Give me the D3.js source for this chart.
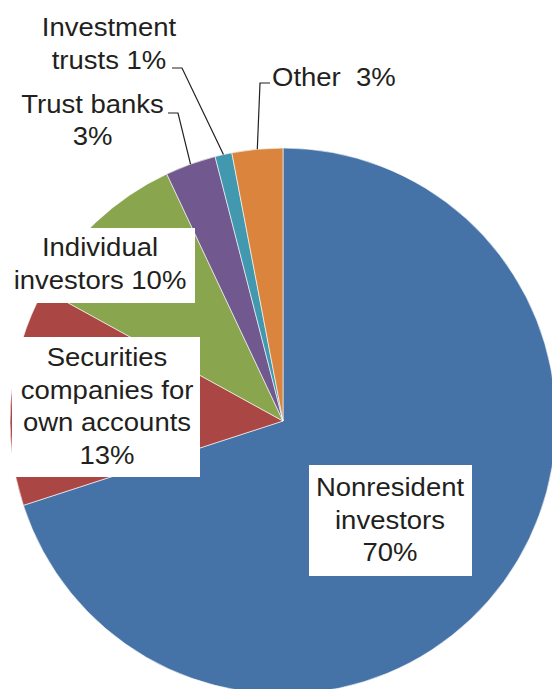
<!DOCTYPE html>
<html>
<head>
    <script src="https://d3js.org/d3.v7.js"></script>
    <style>
        body { margin: 0; background: #fff; }
        svg text {
            font-family: "Liberation Sans", Arial, sans-serif;
            font-size: 25px;
            fill: #231f20;
            white-space: pre;
        }
    </style>
</head>
<body>
    <svg></svg>
    <script>
        // Data
        var categories = ["Nonresident investors", "Securities companies for own accounts",
            "Individual investors", "Trust banks", "Investment trusts", "Other"];
        var shares = [70, 13, 10, 3, 1, 3];
        var colors = ["#4572a7", "#aa4643", "#89a54e", "#71588f", "#4198af", "#db843d"];

        var width = 552, height = 689;
        var cx = 283, cy = 421, radius = 273;

        var svg = d3.select("svg")
            .attr("width", width)
            .attr("height", height);

        var pie = d3.pie().sort(null).value(function (d) { return d; });
        var arc = d3.arc().innerRadius(0).outerRadius(radius);
        var arcs = pie(shares);

        var g = svg.append("g").attr("transform", "translate(" + cx + "," + cy + ")");

        g.selectAll("path")
            .data(arcs)
            .enter()
            .append("path")
            .attr("d", arc)
            .attr("fill", function (d, i) { return colors[i]; })
            .attr("stroke", "#fff")
            .attr("stroke-width", 0.6);

        // point on the rim at the middle of a slice
        function rim(i) {
            var a = (arcs[i].startAngle + arcs[i].endAngle) / 2;
            return [cx + radius * Math.sin(a), cy - radius * Math.cos(a)];
        }

        // labels: lines, anchor point (first baseline), optional white box
        var labels = [
            { i: 0, lines: ["Nonresident", "investors", "70%"], x: 390, y: 496, anchor: "middle", box: [309, 465, 163, 111] },
            { i: 1, lines: ["Securities", "companies for", "own accounts", "13%"], x: 107, y: 366, anchor: "middle", box: [12, 337, 188, 140] },
            { i: 2, lines: ["Individual", "investors 10%"], x: 100, y: 256, anchor: "middle", box: [9, 228, 186, 75] },
            { i: 3, lines: ["Trust banks", "3%"], x: 92.5, y: 112.5, anchor: "middle" },
            { i: 4, lines: ["Investment", "trusts 1%"], x: 109, y: 36, anchor: "middle" },
            { i: 5, lines: ["Other  3%"], x: 272, y: 85.5, anchor: "start" }
        ];

        // leader lines for the small slices (label end, knee, then rim of slice)
        var leaders = [
            { i: 3, from: [168, 113], knee: [178, 113] },
            { i: 4, from: [172, 68], knee: [182, 68] },
            { i: 5, from: [270, 83], knee: [260, 83] }
        ];

        svg.selectAll("polyline.leader")
            .data(leaders)
            .enter()
            .append("polyline")
            .attr("class", "leader")
            .attr("fill", "none")
            .attr("stroke", "#231f20")
            .attr("stroke-width", 1.2)
            .attr("points", function (d) {
                return [d.from, d.knee, rim(d.i)].map(function (p) { return p.join(","); }).join(" ");
            });

        labels.forEach(function (d) {
            if (d.box) {
                svg.append("rect")
                    .attr("x", d.box[0]).attr("y", d.box[1])
                    .attr("width", d.box[2]).attr("height", d.box[3])
                    .attr("fill", "#fff");
            }
            // text in the original is a bit wider than Liberation Sans
            var t = svg.append("text")
                .attr("text-anchor", d.anchor)
                .attr("transform", "translate(" + d.x + "," + d.y + ") scale(1.1,1)");
            d.lines.forEach(function (line, k) {
                t.append("tspan")
                    .attr("x", 0)
                    .attr("y", k * 32.7)
                    .text(line);
            });
        });
    </script>
</body>
</html>
